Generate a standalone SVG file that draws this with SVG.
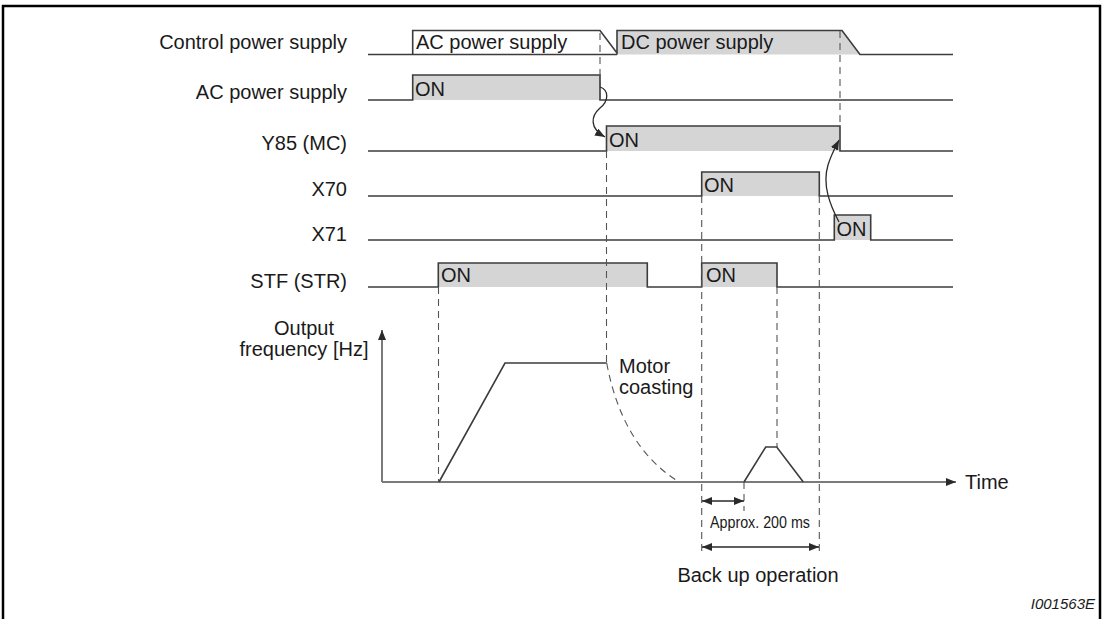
<svg xmlns="http://www.w3.org/2000/svg" width="1103" height="619" viewBox="0 0 1103 619">
<defs>
<marker id="ah" viewBox="0 0 10 8" refX="10" refY="4" markerWidth="10" markerHeight="8" markerUnits="userSpaceOnUse" orient="auto-start-reverse"><path d="M0,0 L10,4 L0,8 z" fill="#2a2a2a"/></marker>
<style>
.sig{fill:none;stroke:#3c3c3c;stroke-width:1.6;stroke-linejoin:miter}
.on{fill:#d5d5d6;stroke:none}
.lbl{font-family:"Liberation Sans",Arial,sans-serif;font-size:20px;fill:#1a1a1a}
.dash{stroke:#555;stroke-width:1.1;stroke-dasharray:7,5;fill:none}
.arr{stroke:#2a2a2a;stroke-width:1.3;fill:none}
.axis{stroke:#7a7a7a;stroke-width:2;fill:none}
</style>
</defs>
<rect width="1103" height="619" fill="#fff"/>
<path d="M3,619 V6 H1100 V619" fill="none" stroke="#000" stroke-width="2.5"/>

<g id="control-power-supply">
<text class="lbl" x="347" y="49" text-anchor="end">Control power supply</text>
<polygon points="412.7,54.5 412.7,30.5 600,30.5 617,54.5" fill="#fff"/>
<polygon class="on" points="617,54.5 617,30.5 842,30.5 860,54.5"/>
<path class="sig" d="M368,54.5 H617 M412.7,54.5 V30.5 H600 L617,53 M617,54.5 V30.5 H842 L860,54.5 H953"/>
<text class="lbl" x="416" y="48.5">AC power supply</text>
<text class="lbl" x="621" y="48.5">DC power supply</text>
</g>

<g id="ac-power-supply">
<text class="lbl" x="347" y="99" text-anchor="end">AC power supply</text>
<rect class="on" x="412.7" y="75" width="187.3" height="25"/>
<path class="sig" d="M368,100 H412.7 V75 H600 V100 H953"/>
<text class="lbl" x="415" y="96">ON</text>
</g>

<g id="y85">
<text class="lbl" x="347" y="150" text-anchor="end">Y85 (MC)</text>
<rect class="on" x="606.5" y="126" width="233.5" height="25"/>
<path class="sig" d="M368,151 H606.5 V126 H840 V151 H953"/>
<text class="lbl" x="609" y="147">ON</text>
</g>

<g id="x70">
<text class="lbl" x="347" y="196" text-anchor="end">X70</text>
<rect class="on" x="701.7" y="172" width="117.6" height="24"/>
<path class="sig" d="M368,196 H701.7 V172 H819.3 V196 H953"/>
<text class="lbl" x="704" y="192">ON</text>
</g>

<g id="x71">
<text class="lbl" x="347" y="241" text-anchor="end">X71</text>
<rect class="on" x="834.3" y="215" width="36.4" height="25"/>
<path class="sig" d="M368,240 H834.3 V215 H870.7 V240 H953"/>
<text class="lbl" x="836.5" y="236">ON</text>
</g>

<g id="stf">
<text class="lbl" x="347" y="288" text-anchor="end">STF (STR)</text>
<rect class="on" x="438.3" y="263" width="209" height="24"/>
<rect class="on" x="701.7" y="263" width="75.3" height="24"/>
<path class="sig" d="M368,287 H438.3 V263 H647.3 V287 H701.7 V263 H777 V287 H953"/>
<text class="lbl" x="441" y="282">ON</text>
<text class="lbl" x="706" y="282">ON</text>
</g>

<g id="output-frequency">
<text class="lbl" x="304" y="335" text-anchor="middle">Output</text>
<text class="lbl" x="304" y="356" text-anchor="middle">frequency [Hz]</text>
<path class="axis" d="M382,482 V330" marker-end="url(#ah)"/>
<path class="axis" d="M382,482 H956" marker-end="url(#ah)"/>
<text class="lbl" x="965" y="489">Time</text>
<path class="sig" d="M439,482 L505,363 H606.7"/>
<path class="dash" d="M606.7,363 Q622,445 676,480"/>
<path class="sig" d="M744,482 L765.7,447 H776.7 L803.3,482"/>
<text class="lbl" x="619" y="373">Motor</text>
<text class="lbl" x="619" y="394">coasting</text>
</g>

<g id="connectors">
<path class="dash" d="M600,33 V100"/>
<path class="dash" d="M606.5,151 V363"/>
<path class="dash" d="M840,31 V126"/>
<path class="dash" d="M438.5,287 V482"/>
<path class="dash" d="M701.7,196 V556"/>
<path class="dash" d="M819.3,196 V556"/>
<path class="dash" d="M777,287 V447"/>
<path class="dash" d="M744,482 V511"/>
<path class="arr" d="M600,87 C609,90 609,101 600,108 C591,116 589,128 605,137" marker-end="url(#ah)"/>
<path class="arr" d="M839,222 C830,205 822,185 828,165 C831,155 835,148 839,140" marker-end="url(#ah)"/>
<path class="arr" d="M702,501 H744" marker-start="url(#ah)" marker-end="url(#ah)"/>
<path class="arr" d="M702,547 H819" marker-start="url(#ah)" marker-end="url(#ah)"/>
<text x="760" y="528" text-anchor="middle" font-family="Liberation Sans, Arial, sans-serif" font-size="16" textLength="100" lengthAdjust="spacingAndGlyphs" fill="#1a1a1a">Approx. 200 ms</text>
<text class="lbl" x="758" y="582" text-anchor="middle">Back up operation</text>
</g>

<text x="1095" y="609" text-anchor="end" font-family="Liberation Sans, Arial, sans-serif" font-size="15" font-style="italic" fill="#1a1a1a">I001563E</text>
</svg>
